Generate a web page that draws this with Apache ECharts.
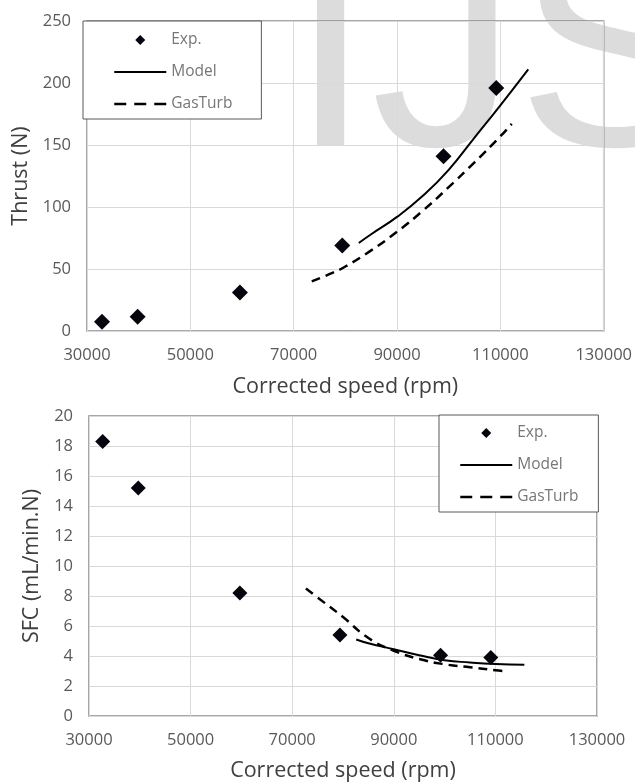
<!DOCTYPE html>
<html>
<head>
<meta charset="utf-8">
<script src="https://cdn.jsdelivr.net/npm/echarts@6/dist/echarts.min.js"></script>
<style>
  html, body { margin: 0; padding: 0; background: #fff; }
  #chart { width: 635px; height: 783px; }
</style>
</head>
<body>
<div id="chart"></div>
<script>
// Thrust vs corrected speed
const thrustExpSpeed = [32900, 39800, 59600, 79400, 99000, 109200];
const thrustExp = [7.5, 11.5, 31, 69, 141, 196];
const thrustModelSpeed = [82600, 85000, 90000, 95000, 100000, 105000, 110000, 115400];
const thrustModel = [71, 78, 92, 109, 130, 156, 182, 211];
const thrustGasTurbSpeed = [73500, 77000, 80000, 85000, 90000, 95000, 100000, 105000, 110000, 112200];
const thrustGasTurb = [40, 46, 52, 65, 80, 97, 116, 136, 157, 167];

// Specific fuel consumption vs corrected speed
const sfcExpSpeed = [32700, 39700, 59700, 79400, 99200, 109100];
const sfcExp = [18.3, 15.2, 8.2, 5.4, 4.05, 3.9];
const sfcModelSpeed = [82600, 85000, 90000, 95000, 100000, 105000, 110000, 115700];
const sfcModel = [5.1, 4.85, 4.45, 4.05, 3.72, 3.57, 3.47, 3.42];
const sfcGasTurbSpeed = [72700, 75000, 80000, 85000, 90000, 95000, 100000, 105000, 110000, 112500];
const sfcGasTurb = [8.5, 7.9, 6.6, 5.2, 4.35, 3.8, 3.45, 3.25, 3.05, 2.98];

const speedTicks = { min: 30000, max: 130000, interval: 20000 };
const legendNames = ['Exp.', 'Model', 'GasTurb'];

const FONT = '"Open Sans", "Noto Sans", sans-serif';
const pairs = (xs, ys) => xs.map((x, i) => [x, ys[i]]);

const labelStyle = { color: '#595959', fontSize: 16.5, fontFamily: FONT, formatter: v => String(v) };
const titleStyle = { color: '#404040', fontSize: 21.5, fontFamily: FONT };
const gridLine = { show: true, lineStyle: { color: '#d9d9d9', width: 1 } };

function speedAxis(gridIndex, gap) {
  return {
    type: 'value', gridIndex,
    min: speedTicks.min, max: speedTicks.max, interval: speedTicks.interval,
    name: 'Corrected speed (rpm)', nameLocation: 'middle', nameGap: gap,
    nameTextStyle: titleStyle,
    axisLine: { show: false }, axisTick: { show: false },
    axisLabel: Object.assign({ margin: 16 }, labelStyle),
    splitLine: gridLine
  };
}

function valueAxis(gridIndex, name, max, interval, gap) {
  return {
    type: 'value', gridIndex, min: 0, max, interval,
    name, nameLocation: 'middle', nameGap: gap, nameRotate: 90,
    nameTextStyle: titleStyle,
    axisLine: { show: false }, axisTick: { show: false },
    axisLabel: Object.assign({ margin: 16 }, labelStyle),
    splitLine: gridLine
  };
}

const expStyle = { color: '#05050d', opacity: 1 };
const modelLine = { color: '#000', width: 2, type: 'solid' };
const gasLine = { color: '#000', width: 2.5, type: [9, 6] };

// small square diamond for the measured-points legend entry
const DIAMOND = 'path://M5,0L10,5L5,10L0,5Z';

function legendBox(pos) {
  return Object.assign({
    orient: 'vertical',
    data: [
      { name: 'Exp.', icon: DIAMOND, itemStyle: { color: '#05050d', opacity: 1 } },
      { name: 'Model', itemStyle: { opacity: 0 } },
      { name: 'GasTurb', itemStyle: { opacity: 0 }, lineStyle: { type: [12, 8], width: 2.5 } }
    ],
    itemWidth: 52, itemHeight: 10, itemGap: 16,
    symbolKeepAspect: true,
    backgroundColor: '#fff', borderColor: '#595959', borderWidth: 1, borderRadius: 0,
    textStyle: { color: '#767676', fontSize: 15.5, fontFamily: FONT, lineHeight: 16 },
    selectedMode: false
  }, pos);
}

const option = {
  animation: false,
  backgroundColor: '#fff',
  graphic: [{
    type: 'text', x: 290, y: 65, z: -10, silent: true,
    style: {
      text: 'IJS', fill: '#dcdcdc',
      font: '292px "Liberation Sans", Arial, sans-serif',
      align: 'left', verticalAlign: 'middle'
    }
  }],
  grid: [
    { left: 87, top: 21, width: 519, height: 310, show: true, borderColor: '#8a8a8a', borderWidth: 1.5 },
    { left: 89, top: 416, width: 508, height: 301, show: true, borderColor: '#8a8a8a', borderWidth: 1.5 }
  ],
  xAxis: [speedAxis(0, 45), speedAxis(1, 44)],
  yAxis: [
    valueAxis(0, 'Thrust (N)', 250, 50, 55),
    valueAxis(1, 'SFC (mL/min.N)', 20, 2, 45)
  ],
  legend: [
    legendBox({ left: 83, top: 21, padding: [11, 29, 7, 30] }),
    legendBox({ left: 439, top: 415, padding: [10, 20, 7, 20] })
  ],
  series: [
    { name: legendNames[0], type: 'scatter', xAxisIndex: 0, yAxisIndex: 0,
      symbol: 'diamond', symbolSize: 16, itemStyle: expStyle,
      data: pairs(thrustExpSpeed, thrustExp), z: 5 },
    { name: legendNames[1], type: 'line', xAxisIndex: 0, yAxisIndex: 0,
      smooth: true, symbol: 'none', showSymbol: false, lineStyle: modelLine,
      itemStyle: { color: '#000' },
      data: pairs(thrustModelSpeed, thrustModel) },
    { name: legendNames[2], type: 'line', xAxisIndex: 0, yAxisIndex: 0,
      smooth: true, symbol: 'none', showSymbol: false, lineStyle: gasLine,
      itemStyle: { color: '#000' },
      data: pairs(thrustGasTurbSpeed, thrustGasTurb) },
    { name: legendNames[0], type: 'scatter', xAxisIndex: 1, yAxisIndex: 1,
      symbol: 'diamond', symbolSize: 15, itemStyle: expStyle,
      data: pairs(sfcExpSpeed, sfcExp), z: 5 },
    { name: legendNames[1], type: 'line', xAxisIndex: 1, yAxisIndex: 1,
      smooth: true, symbol: 'none', showSymbol: false, lineStyle: modelLine,
      itemStyle: { color: '#000' },
      data: pairs(sfcModelSpeed, sfcModel) },
    { name: legendNames[2], type: 'line', xAxisIndex: 1, yAxisIndex: 1,
      smooth: true, symbol: 'none', showSymbol: false, lineStyle: gasLine,
      itemStyle: { color: '#000' },
      data: pairs(sfcGasTurbSpeed, sfcGasTurb) }
  ]
};

const chart = echarts.init(document.getElementById('chart'), null, { renderer: 'canvas' });
chart.setOption(option);
</script>
</body>
</html>
